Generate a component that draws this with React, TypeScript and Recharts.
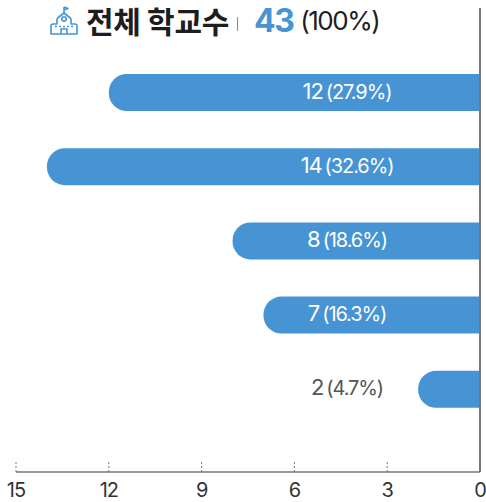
import React from 'react';
import { BarChart, Bar, XAxis, YAxis, LabelList, ReferenceLine } from 'recharts';

const categories = ['A', 'B', 'C', 'D', 'E'];
const schools = [12, 14, 8, 7, 2];
const shares = ['27.9', '32.6', '18.6', '16.3', '4.7'];
const ticks = [15, 12, 9, 6, 3, 0];

const data = categories.map((name, i) => ({ name, value: schools[i], share: shares[i] }));

const BLUE = '#4694d4';
const FONT = 'Inter, "Noto Sans CJK KR", sans-serif';

// tick label plus the short dotted mark above the axis line
const DottedTick = ({ x, y, payload }: any) => (
  <g>
    <line x1={x} x2={x} y1={y - 10} y2={y} stroke="#777" strokeWidth={1} strokeDasharray="2 2" />
    <text x={x} y={y + 25} textAnchor="middle" fontSize={20} letterSpacing={-1} fill="#333" fontFamily={FONT}>
      {payload.value}
    </text>
  </g>
);

const BarText = ({ x, y, width, height, index }: any) => {
  const small = schools[index] < 3;
  // the axis is reversed, so width comes in negative and x is the right end
  const right = Math.max(x, x + width);
  return (
    <text
      x={right - 133}
      y={y + height / 2 + 6}
      textAnchor="middle"
      fontFamily={FONT}
      letterSpacing={-1.1}
      fill={small ? '#555' : '#fff'}
    >
      <tspan fontSize={22}>{schools[index]}</tspan>
      <tspan fontSize={20} dx={3}>({shares[index]}%)</tspan>
    </text>
  );
};

const SchoolIcon = () => (
  <svg width={30} height={30} viewBox="0 0 30 30" fill="none" stroke={BLUE} strokeWidth={1.6} strokeLinejoin="round">
    <path d="M15 1v6M15 1l4 1.5-4 1.5" />
    <path d="M8 12.5l7-5.5 7 5.5" />
    <circle cx={15} cy={13} r={2.2} />
    <path d="M8 12.5V18H4a2 2 0 0 0-2 2v8h26v-8a2 2 0 0 0-2-2h-4v-5.5" />
    <path d="M12 28v-5h6v5" />
    <path d="M6 20.5h18" strokeDasharray="2 2" />
  </svg>
);

export default function App() {
  return (
    <div style={{ position: 'absolute', left: 0, top: 0, width: 486, height: 502, background: '#fff' }}>
      <div
        style={{
          position: 'absolute',
          left: 49,
          top: 4,
          height: 34,
          display: 'flex',
          alignItems: 'center',
          whiteSpace: 'nowrap',
          fontFamily: FONT,
          lineHeight: 1,
          color: '#1d1d1d',
          zIndex: 1,
        }}
      >
        <SchoolIcon />
        <span style={{ fontSize: 30, fontWeight: 700, marginLeft: 7, marginTop: -2, fontFamily: '"Noto Sans CJK KR"', letterSpacing: -0.3 }}>전체 학교수</span>
        <span style={{ width: 1, height: 14, background: '#888', marginLeft: 8, marginTop: 6 }} />
        <span style={{ fontSize: 32, fontWeight: 700, color: BLUE, marginLeft: 16, marginTop: -1, letterSpacing: -1.5 }}>43</span>
        <span style={{ fontSize: 26, marginLeft: 7, marginTop: -1, letterSpacing: -1.5 }}>(100%)</span>
      </div>
      <BarChart
        width={486}
        height={502}
        data={data}
        layout="vertical"
        margin={{ top: 8, right: 6, bottom: 0, left: 16 }}
        barSize={37}
      >
        <XAxis
          type="number"
          domain={[0, 15]}
          ticks={ticks}
          reversed
          height={30}
          interval={0}
          tickLine={false}
          tickSize={0}
          tickMargin={0}
          tick={<DottedTick />}
          axisLine={{ stroke: '#333', strokeWidth: 1.2 }}
        />
        <YAxis
          type="category"
          dataKey="name"
          orientation="right"
          width={0}
          tick={false}
          tickLine={false}
          axisLine={false}
          padding={{ top: 47, bottom: 46 }}
        />
        <Bar dataKey="value" fill={BLUE} radius={[0, 18, 18, 0]} isAnimationActive={false}>
          <LabelList dataKey="value" content={<BarText />} />
        </Bar>
        <ReferenceLine x={0} stroke="#777" strokeWidth={2} />
      </BarChart>
    </div>
  );
}
